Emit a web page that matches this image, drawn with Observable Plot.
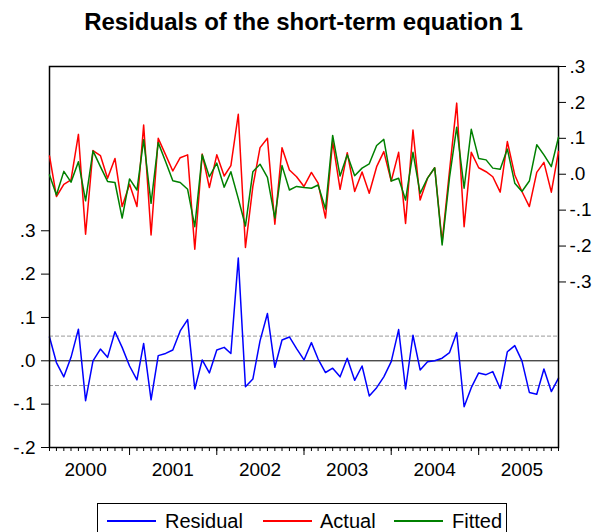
<!DOCTYPE html>
<html>
<head>
<meta charset="utf-8">
<script src="https://cdn.jsdelivr.net/npm/d3@7"></script>
<script src="https://cdn.jsdelivr.net/npm/@observablehq/plot@0.6"></script>
<style>
  body { margin: 0; background: #fff; font-family: "Liberation Sans", Arial, sans-serif; }
  #wrap { position: relative; width: 595px; height: 532px; overflow: hidden; background: #fff; }
  #title { position: absolute; left: 6px; top: 0; width: 595px; height: 44px; line-height: 44px;
           text-align: center; font-weight: bold; font-size: 24px; color: #000; }
  #chart { position: absolute; left: 0; top: 44px; width: 595px; height: 456px; }
  #chart svg { position: absolute; left: 0; top: 0; }
  #legend { position: absolute; left: 97px; top: 503px; width: 410px; height: 40px;
            border: 1px solid #000; box-sizing: border-box; }
  .lg-line { position: absolute; top: 16px; width: 49px; height: 1.5px; }
  .lg-text { position: absolute; top: 6px; font-size: 20px; line-height: 22px; color: #000; white-space: nowrap; }
</style>
</head>
<body>
<div id="wrap">
  <div id="title">Residuals of the short-term equation 1</div>
  <div id="chart"></div>
  <div id="legend"></div>
</div>
<script>
// ---- data (monthly, Feb 2000 – Dec 2005) ----
const startMonth = [2000, 1];   // Feb 2000 (month index 1)
const endMonth = [2005, 11];    // Dec 2005

const residual = [
  0.055, -0.004, -0.037, 0.008, 0.073, -0.092, 0.000, 0.027, 0.008, 0.067,
  0.031, -0.012, -0.044, 0.040, -0.090, 0.012, 0.017, 0.025, 0.069, 0.095,
  -0.065, 0.002, -0.028, 0.025, 0.031, 0.017, 0.237, -0.060, -0.042, 0.046,
  0.109, -0.015, 0.048, 0.055, 0.028, 0.002, 0.042, 0.004, -0.027, -0.017,
  -0.037, 0.006, -0.045, -0.012, -0.081, -0.062, -0.037, -0.002, 0.072, -0.065,
  0.059, -0.021, -0.002, 0.000, 0.006, 0.019, 0.065, -0.106, -0.062, -0.028,
  -0.032, -0.025, -0.064, 0.021, 0.035, 0.000, -0.073, -0.077, -0.019, -0.071,
  -0.040
];
const actual = [
  0.051, -0.062, -0.028, -0.016, 0.111, -0.167, 0.066, 0.052, -0.011, 0.044,
  -0.090, -0.028, -0.090, 0.137, -0.169, 0.100, 0.054, 0.009, 0.046, 0.054,
  -0.209, 0.056, -0.037, 0.054, -0.005, 0.024, 0.167, -0.204, -0.034, 0.074,
  0.100, -0.139, 0.074, 0.012, -0.007, -0.034, 0.005, -0.025, -0.122, 0.091,
  -0.042, 0.060, -0.048, 0.006, -0.053, 0.021, 0.063, -0.019, 0.061, -0.137,
  0.123, -0.072, -0.011, 0.018, -0.188, 0.010, 0.198, -0.146, 0.061, 0.018,
  0.007, -0.007, -0.050, 0.091, -0.002, -0.048, -0.090, 0.005, 0.033, -0.050,
  0.063
];
const fitted = [
  -0.002, -0.058, 0.008, -0.022, 0.035, -0.074, 0.065, 0.021, -0.020, -0.023,
  -0.122, -0.013, -0.044, 0.096, -0.081, 0.088, 0.035, -0.018, -0.023, -0.042,
  -0.146, 0.054, -0.007, 0.031, -0.036, 0.007, -0.068, -0.144, 0.007, 0.028,
  -0.009, -0.122, 0.024, -0.044, -0.034, -0.037, -0.039, -0.030, -0.097, 0.108,
  -0.005, 0.054, -0.004, 0.017, 0.029, 0.080, 0.097, -0.019, -0.011, -0.072,
  0.061, -0.053, -0.011, 0.018, -0.197, -0.009, 0.131, -0.039, 0.125, 0.044,
  0.040, 0.017, 0.014, 0.070, -0.025, -0.048, -0.019, 0.082, 0.054, 0.021,
  0.103
];
const residualBands = [0.057, -0.057];           // ±1 S.E. dashed lines
const leftTicks = [0.3, 0.2, 0.1, 0.0, -0.1, -0.2];
const rightTicks = [0.3, 0.2, 0.1, 0.0, -0.1, -0.2, -0.3];
const years = [2000, 2001, 2002, 2003, 2004, 2005];
const seriesNames = ["Residual", "Actual", "Fitted"];
const seriesColors = ["#0000ff", "#ff0000", "#008000"];

// ---- build table ----
const dates = d3.utcMonth.range(
  new Date(Date.UTC(startMonth[0], startMonth[1], 1)),
  new Date(Date.UTC(endMonth[0], endMonth[1] + 1, 1))
);
const table = dates.map((d, i) => ({date: d, residual: residual[i], actual: actual[i], fitted: fitted[i]}));
const janTicks = dates.filter(d => d.getUTCMonth() === 0);
const yearLabelPos = years.map(y => new Date(Date.UTC(y, 6, 1)));

// EViews-style labels: ".3", ".0", "-.1"
const fmt = v => {
  const a = Math.abs(v);
  const s = a.toFixed(1).replace(/^0/, "");
  return (v < -1e-9 ? "-" : "") + s;
};

const W = 595, H = 456;
const margins = {marginLeft: 49, marginRight: 37, marginTop: 22, marginBottom: 53};
const xScale = {type: "utc", domain: [dates[0], dates[dates.length - 1]]};
const font = {fontFamily: "'Liberation Sans', Arial, sans-serif", fontSize: "19px", background: "transparent", color: "#000", overflow: "visible"};

// Residual panel (left axis)
const plotA = Plot.plot({
  width: W, height: H, ...margins,
  style: font,
  x: xScale,
  y: {domain: [-0.2, 0.679]},
  marks: [
    Plot.ruleY(residualBands, {stroke: "#999", strokeWidth: 1, strokeDasharray: "4,2"}),
    Plot.ruleY([0], {stroke: "#000", strokeWidth: 1}),
    Plot.lineY(table, {x: "date", y: "residual", stroke: seriesColors[0], strokeWidth: 1.5}),
    Plot.axisY({ticks: leftTicks, tickFormat: fmt, tickSize: 8, tickPadding: 6, label: null, fontSize: 19}),
    Plot.axisX({ticks: dates, tickSize: 4, tickFormat: () => "", label: null}),
    Plot.axisX({ticks: janTicks, tickSize: 8, tickFormat: () => "", label: null}),
    Plot.axisX({ticks: yearLabelPos, tickSize: 0, tickPadding: 15, tickFormat: d => String(d.getUTCFullYear()), label: null, fontSize: 19}),
    Plot.frame({stroke: "#000", strokeWidth: 1.5})
  ]
});

// Actual / fitted panel (right axis)
const plotB = Plot.plot({
  width: W, height: H, ...margins,
  style: font,
  x: {...xScale, axis: null},
  y: {domain: [-0.761, 0.3], axis: null},
  marks: [
    Plot.lineY(table, {x: "date", y: "actual", stroke: seriesColors[1], strokeWidth: 1.5}),
    Plot.lineY(table, {x: "date", y: "fitted", stroke: seriesColors[2], strokeWidth: 1.5}),
    Plot.axisY({anchor: "right", ticks: rightTicks, tickFormat: fmt, tickSize: 7, tickPadding: 4, label: null, fontSize: 19})
  ]
});

const chart = document.getElementById("chart");
chart.appendChild(plotA);
chart.appendChild(plotB);

// Legend
const legend = document.getElementById("legend");
const linePos = [9, 165, 296];
const textPos = [67, 222, 354];
seriesNames.forEach((name, i) => {
  const ln = document.createElement("div");
  ln.className = "lg-line";
  ln.style.left = linePos[i] + "px";
  ln.style.background = seriesColors[i];
  legend.appendChild(ln);
  const tx = document.createElement("div");
  tx.className = "lg-text";
  tx.style.left = textPos[i] + "px";
  tx.textContent = name;
  legend.appendChild(tx);
});
</script>
</body>
</html>
